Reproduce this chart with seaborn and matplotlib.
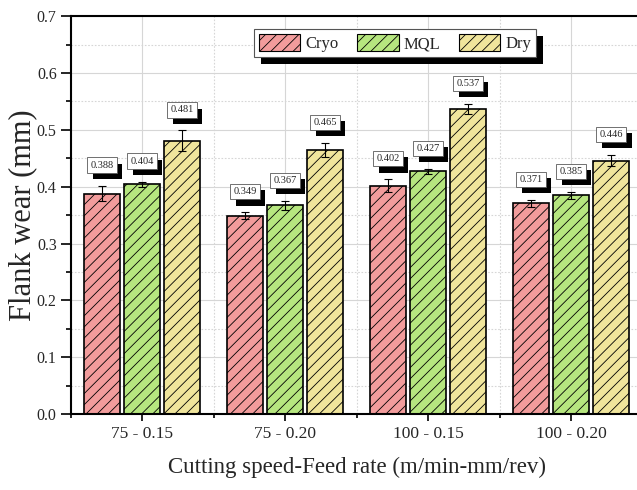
import numpy as np
import pandas as pd
import matplotlib
matplotlib.use("Agg")
import matplotlib.pyplot as plt
import matplotlib.patches as mpatches
from matplotlib import patheffects as pe
from matplotlib.ticker import MultipleLocator, FixedLocator, FormatStrFormatter
import seaborn as sns

categories = ['75 - 0.15', '75 - 0.20', '100 - 0.15', '100 - 0.20']
methods = ['Cryo', 'MQL', 'Dry']
cryo = [0.388, 0.349, 0.402, 0.371]
mql = [0.404, 0.367, 0.427, 0.385]
dry = [0.481, 0.465, 0.537, 0.446]
cryo_err = [0.014, 0.006, 0.011, 0.006]
mql_err = [0.005, 0.008, 0.004, 0.006]
dry_err = [0.018, 0.012, 0.009, 0.010]
colors = ['#F29C9C', '#B6E67F', '#F0E59C']

sns.set_style('white')
plt.rcParams['font.family'] = ['Liberation Serif', 'DejaVu Serif']
plt.rcParams['hatch.linewidth'] = 0.6
plt.rcParams['hatch.color'] = '#333333'

df = pd.DataFrame({
    'cond': categories * 3,
    'method': [m for m in methods for _ in categories],
    'wear': cryo + mql + dry,
    'err': cryo_err + mql_err + dry_err,
})

fig = plt.figure(figsize=(6.37, 4.9), dpi=100)
ax = fig.add_axes([0.1107, 0.155, 0.898, 0.812])
ax.set_axisbelow(True)

sns.barplot(data=df, x='cond', y='wear', hue='method', order=categories,
            hue_order=methods, palette=colors, width=0.84, gap=0.12,
            errorbar=None, edgecolor='black', linewidth=1.2, saturation=1,
            legend=False, ax=ax)

for cont, m in zip(ax.containers, methods):
    sub = df[df.method == m].set_index('cond').loc[categories]
    xs, hs = [], []
    for p in cont:
        p.set_hatch('///')
        xs.append(p.get_x() + p.get_width() / 2)
        hs.append(p.get_height())
    errs = sub['err'].values
    ax.errorbar(xs, hs, yerr=errs, fmt='none', ecolor='black', elinewidth=0.8,
                capsize=3, capthick=0.8, zorder=4)
    for x, h, e in zip(xs, hs, errs):
        t = ax.text(x, h + e + 0.036, f'{h:.3f}', ha='center', va='center',
                    fontsize=7.5, zorder=6,
                    bbox=dict(boxstyle='square,pad=0.3', fc='white', ec='0.35', lw=0.6))
        t.get_bbox_patch().set_path_effects([
            pe.SimplePatchShadow(offset=(4, -4.5), shadow_rgbFace='black', alpha=1),
            pe.Normal()])

handles = [mpatches.Patch(facecolor=c, edgecolor='black', hatch='///', lw=0.8, label=m)
           for c, m in zip(colors, methods)]
leg = ax.legend(handles=handles, ncol=3, loc='center', bbox_to_anchor=(0.567, 0.932),
                fontsize=12, frameon=True, fancybox=False, edgecolor='#555555',
                framealpha=1, facecolor='white',
                handlelength=2.5, handleheight=1.2, columnspacing=1.1,
                handletextpad=0.3, borderpad=0.3, borderaxespad=0)
leg.get_frame().set_linewidth(0.8)
leg.get_frame().set_path_effects([
    pe.SimplePatchShadow(offset=(5, -5), shadow_rgbFace='black', alpha=1),
    pe.Normal()])
leg.set_zorder(7)

ax.set_xlim(-0.5, 3.5)
ax.set_ylim(0, 0.7)
ax.yaxis.set_major_locator(MultipleLocator(0.1))
ax.yaxis.set_minor_locator(MultipleLocator(0.05))
ax.yaxis.set_major_formatter(FormatStrFormatter('%.1f'))
ax.xaxis.set_minor_locator(FixedLocator([-0.5, 0.5, 1.5, 2.5, 3.5]))

ax.grid(which='major', color='#d6d6d6', lw=0.8, ls='-')
ax.grid(which='minor', color='#d6d6d6', lw=0.8, ls=(0, (1.5, 1.5)))

ax.tick_params(axis='x', which='major', direction='out', length=5, width=1.2,
               labelsize=12.5, color='black', bottom=True)
ax.tick_params(axis='x', which='minor', direction='out', length=3, width=1.2,
               color='black', bottom=True)
ax.tick_params(axis='y', which='major', direction='out', length=7, width=1.2,
               labelsize=11.5, color='black', left=True, pad=3)
ax.tick_params(axis='y', which='minor', direction='out', length=3.5, width=1.2,
               color='black', left=True)

for s in ['left', 'bottom', 'top']:
    ax.spines[s].set_visible(True)
    ax.spines[s].set_color('black')
    ax.spines[s].set_linewidth(1.5)
ax.spines['right'].set_visible(False)

ax.set_xlabel('Cutting speed-Feed rate (m/min-mm/rev)', fontsize=16.5, labelpad=11)
ax.set_ylabel('Flank wear (mm)', fontsize=22, labelpad=0)

fig.savefig('out.png', dpi=100)
